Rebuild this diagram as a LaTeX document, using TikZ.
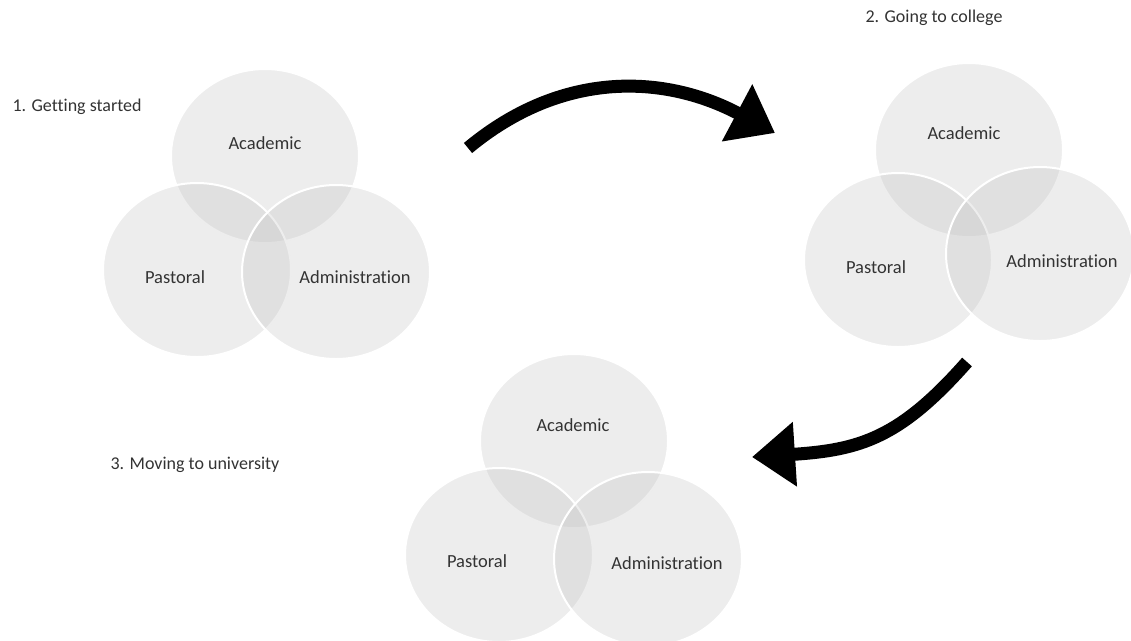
\documentclass[tikz,border=0pt]{standalone}
\usepackage{fontspec}
\setmainfont{Carlito}[Ligatures={NoCommon,NoDiscretionary}]
\usetikzlibrary{arrows.meta,shapes.geometric}
\begin{document}
\begin{tikzpicture}[x=1pt,y=-1pt,
        venn/.style={ellipse,draw=white,line width=2pt,fill=black!25,fill opacity=0.28,
            minimum width=188pt,minimum height=174pt,inner sep=0pt},
        lbl/.style={anchor=center,text=black!80,font=\fontsize{18.5}{20}\selectfont},
        stage/.style={anchor=west,text=black!80,font=\fontsize{18}{20}\selectfont},
        bigarrow/.style={line width=13pt,-{Triangle[length=43pt,width=62pt]}}]
    \useasboundingbox (0,0) rectangle (1131,640);
    % 1. getting started
    \node[venn] at (265,156) (acad1) {};
    \node[venn] at (197,270) (past1) {};
    \node[venn] at (336,272) (admin1) {};
    \node[lbl] at (265,143) (acadlbl1) {Academic};
    \node[lbl] at (175,277) (pastlbl1) {Pastoral};
    \node[lbl] at (355,277) (adminlbl1) {Administration};
    \node[stage] at (9,107) (stage1) {1. Getting started};
    % 2. going to college
    \node[venn] at (969,150) (acad2) {};
    \node[venn] at (898,260) (past2) {};
    \node[venn] at (1040,254) (admin2) {};
    \node[lbl] at (964,133) (acadlbl2) {Academic};
    \node[lbl] at (876,267) (pastlbl2) {Pastoral};
    \node[lbl] at (1062,261) (adminlbl2) {Administration};
    \node[stage] at (862,18) (stage2) {2. Going to college};
    % 3. moving to university
    \node[venn] at (574,441) (acad3) {};
    \node[venn] at (499,555) (past3) {};
    \node[venn] at (648,559) (admin3) {};
    \node[lbl] at (573,425) (acadlbl3) {Academic};
    \node[lbl] at (477,561) (pastlbl3) {Pastoral};
    \node[lbl] at (667,563) (adminlbl3) {Administration};
    \node[stage] at (107,465) (stage3) {3. Moving to university};
    % arrows
    \coordinate (go1) at (468,148);
    \coordinate (to1) at (775,133);
    \coordinate (go2) at (967,362);
    \coordinate (to2) at (752,457);
    \draw[bigarrow] (go1) .. controls (563,69) and (666,75) .. (to1);
    \draw[bigarrow] (go2) .. controls (900,438) and (860,450) .. (to2);
\end{tikzpicture}
\end{document}
